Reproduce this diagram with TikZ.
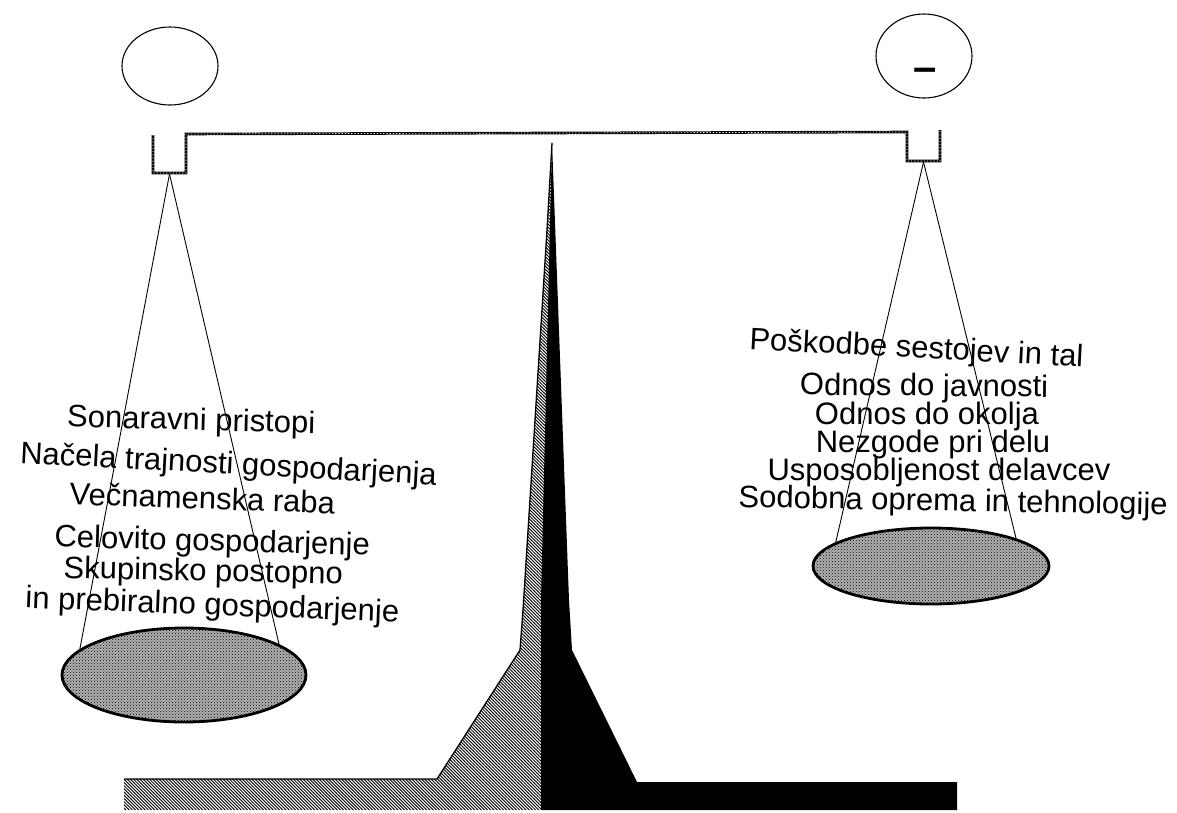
\documentclass[tikz,border=0pt]{standalone}
\usepackage{fontspec}
\setmainfont{Liberation Sans}
\usetikzlibrary{patterns,shapes.geometric}
\pgfdeclarepatternformonly{densehatch}{\pgfqpoint{-1pt}{-1pt}}{\pgfqpoint{4.2pt}{4.2pt}}{\pgfqpoint{3.2pt}{3.2pt}}{%
  \pgfsetlinewidth{0.85pt}%
  \pgfpathmoveto{\pgfqpoint{-0.2pt}{3.4pt}}%
  \pgfpathlineto{\pgfqpoint{3.4pt}{-0.2pt}}%
  \pgfusepath{stroke}%
}
\begin{document}
\begin{tikzpicture}[x=1pt,y=-1pt,
  lbl/.style={font=\fontsize{31}{37}\selectfont, inner sep=0pt, anchor=base},
  cord/.style={line width=0.9pt},
  pan/.style={ellipse, draw, line width=2.8pt, inner sep=0pt,
    preaction={fill=gray!60}, pattern=crosshatch dots, pattern color=black},
  ring/.style={ellipse, draw, line width=1.1pt, inner sep=0pt},
  chainout/.style={line width=2.6pt, line join=miter},
  chainin/.style={white, line width=0.7pt, dash pattern=on 1.2pt off 2pt},
]
\useasboundingbox (0,0) rectangle (1177,812);

% circles
\node[ring, minimum width=96pt, minimum height=78pt] (lring) at (170,66) {};
\node[ring, minimum width=96pt, minimum height=84pt] (rring) at (924,56) {};
\node[inner sep=0pt, anchor=base, font=\fontsize{42}{42}\selectfont\bfseries] (minus) at (925.5,81) {–};

% beam with hooks
\coordinate (a1) at (153,135);
\coordinate (a2) at (153,173);
\coordinate (a3) at (186,173);
\coordinate (a4) at (186,134);
\coordinate (b1) at (907,132);
\coordinate (b2) at (907,161);
\coordinate (b3) at (940,161);
\coordinate (b4) at (940,130);
\draw[chainout] (a1) -- (a2) -- (a3) -- (a4) -- (b1) -- (b2) -- (b3) -- (b4);
\draw[chainin] (a1) -- (a2) -- (a3) -- (a4) -- (b1) -- (b2) -- (b3) -- (b4);

\coordinate (lhook) at (169.5,174);
\coordinate (rhook) at (923.5,162);

% stand
\fill[pattern=densehatch, pattern color=black] (552,143) -- (547,230) -- (523,610) -- (520,650) -- (437,779)
  -- (124,779) -- (124,810) -- (541,810) -- cycle;
\draw[line width=1.3pt] (552,143) -- (547,230) -- (523,610) -- (520,650) -- (437,779) -- (124,779);
\fill[black] (552,142) -- (569,600) -- (572,650) -- (637,782) -- (957,782) -- (957,810)
  -- (541,810) -- (541,600) -- cycle;

% pans
\node[pan, minimum width=244pt, minimum height=94pt] (lpan) at (184,675) {};
\node[pan, minimum width=236pt, minimum height=76pt] (rpan) at (931,566) {};

% cords
\draw[cord] (lhook) -- (lpan.166);
\draw[cord] (lhook) -- (lpan.18);
\draw[cord] (rhook) -- (rpan.166);
\draw[cord] (rhook) -- (rpan.18);

% left texts
\node[lbl, rotate=-1.5] (l1) at (191,430) {Sonaravni pristopi};
\node[lbl, rotate=-3] (l2) at (228,474) {Načela trajnosti gospodarjenja};
\node[lbl, rotate=-2] (l3) at (202,509) {Večnamenska raba};
\node[lbl, rotate=-1.5] (l4) at (212,551) {Celovito gospodarjenje};
\node[lbl, rotate=-1.2] (l5) at (203,581) {Skupinsko postopno};
\node[lbl, rotate=-2.2] (l6) at (212,615) {in prebiralno gospodarjenje};

% right texts
\node[lbl, rotate=-3] (r1) at (916,358) {Poškodbe sestojev in tal};
\node[lbl, rotate=-0.5] (r2) at (924,396) {Odnos do javnosti};
\node[lbl] (r3) at (927,424) {Odnos do okolja};
\node[lbl] (r4) at (933,452) {Nezgode pri delu};
\node[lbl] (r5) at (939,480) {Usposobljenost delavcev};
\node[lbl, rotate=-1] (r6) at (953,511) {Sodobna oprema in tehnologije};
\end{tikzpicture}
\end{document}
